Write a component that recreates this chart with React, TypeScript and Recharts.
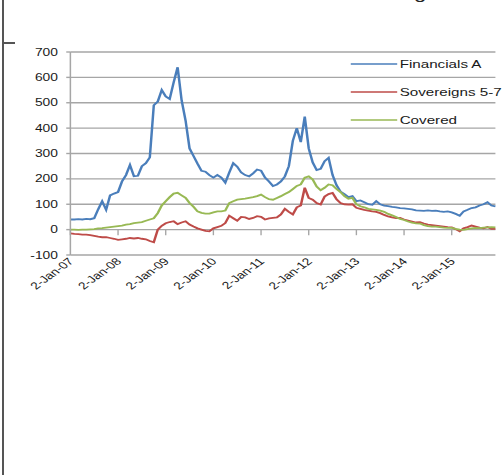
import React from 'react';
import { LineChart, Line, XAxis, YAxis, CartesianGrid, ReferenceLine, Legend } from 'recharts';

const tickMonths = [0, 12, 24, 36, 48, 60, 72, 84, 96];
const tickLabels = ['2-Jan-07', '2-Jan-08', '2-Jan-09', '2-Jan-10', '2-Jan-11', '2-Jan-12', '2-Jan-13', '2-Jan-14', '2-Jan-15'];
const yTicks = [-100, 0, 100, 200, 300, 400, 500, 600, 700];

// monthly values, Jan 2007 .. Dec 2015
const financialsA = [
  40, 40, 41, 40, 42, 41, 45, 80, 112, 78, 135, 142,
  148, 190, 215, 255, 210, 212, 250, 262, 285, 490, 505, 550,
  525, 515, 580, 640, 510, 430, 320, 290, 260, 232, 228, 215,
  205, 215, 205, 185, 225, 262, 248, 225, 215, 210, 222, 237,
  232, 205, 190, 172, 178, 190, 210, 250, 350, 400, 345, 445,
  320, 265, 235, 240, 270, 283, 215, 175, 150, 140, 128, 132,
  112, 115, 108, 100, 98, 112, 100, 95, 93, 90, 88, 85,
  84, 82, 80, 76, 75, 74, 76, 74, 75, 72, 70, 72,
  68, 62, 55, 72, 78, 85, 88, 95, 100, 108, 95, 92,
];
const sovereigns57 = [
  -15, -17, -18, -20, -20, -22, -25, -28, -30, -30, -33, -36,
  -40, -38, -36, -33, -35, -33, -36, -38, -45, -50, 0, 15,
  25, 30, 33, 22, 28, 33, 20, 12, 5, 0, -5, -7,
  5, 10, 15, 26, 55, 45, 35, 50, 48, 42, 46, 53,
  50, 40, 44, 46, 48, 60, 82, 70, 60, 88, 95, 165,
  125, 118, 105, 99, 130, 140, 145, 120, 105, 100, 99, 100,
  86, 82, 78, 75, 72, 70, 65, 58, 52, 48, 45, 46,
  40, 36, 32, 28, 29, 24, 20, 18, 16, 14, 12, 10,
  9, 2, -7, 5, 10, 16, 12, 8, 5, 10, 3, 3,
];
const covered = [
  0, 0, -1, 0, 0, 1, 2, 5, 6, 8, 10, 12,
  14, 16, 20, 22, 26, 28, 30, 35, 40, 45, 65, 95,
  112, 128, 142, 145, 135, 125, 105, 90, 72, 66, 63, 63,
  68, 72, 72, 75, 105, 112, 118, 120, 122, 125, 128, 132,
  138, 128, 120, 118, 125, 132, 140, 148, 160, 172, 178, 205,
  210, 198, 170, 155, 165, 178, 175, 160, 148, 132, 122, 125,
  100, 92, 88, 82, 80, 78, 75, 70, 62, 56, 50, 42,
  38, 32, 28, 25, 24, 18, 14, 12, 12, 10, 8, 7,
  7, 3, 0, -1, 2, 5, 7, 6, 8, 9, 10, 9,
];

const seriesKeys = ['fin', 'sov', 'cov'];
const seriesNames = ['Financials A', 'Sovereigns 5-7', 'Covered'];
const seriesColors = ['#4A7EBB', '#BE4B48', '#98B954'];

const data = financialsA.map((v, i) => ({ m: i, fin: v, sov: sovereigns57[i], cov: covered[i] }));

const FONT = '"Liberation Sans", Arial, sans-serif';
const S = 1.38;
const INNER_W = 365;
const H = 475;

const XTick = (props: any) => {
  const { x, y, payload } = props;
  const idx = tickMonths.indexOf(payload.value);
  return (
    <g transform={`translate(${x + 3},${y + 7}) rotate(-45)`}>
      <text x={0} y={0} textAnchor="end" fontSize={10} fill="#1a1a1a" fontFamily={FONT}>
        {idx >= 0 ? tickLabels[idx] : ''}
      </text>
    </g>
  );
};

const LegendContent = () => (
  <div style={{ display: 'flex', flexDirection: 'column' }}>
    {seriesNames.map((n, i) => (
      <div key={n} style={{ height: 28, display: 'flex', alignItems: 'center' }}>
        <svg width={34} height={4} style={{ display: 'block' }}>
          <line x1={0} y1={2} x2={34} y2={2} stroke={seriesColors[i]} strokeWidth={1.3} />
        </svg>
        <span style={{ marginLeft: 2, fontSize: 11, color: '#1a1a1a', fontFamily: FONT, whiteSpace: 'nowrap' }}>{n}</span>
      </div>
    ))}
  </div>
);

export default function App() {
  return (
    <div style={{ position: 'absolute', left: 0, top: 0, width: 504, height: H, overflow: 'hidden', background: '#fff' }}>
      <div style={{ position: 'absolute', left: 2, top: 0, width: 2, height: H, background: '#555' }} />
      <div style={{ position: 'absolute', left: 3, top: 42, width: 12, height: 2, background: '#555' }} />
      <div style={{ position: 'absolute', left: 0, top: 0, width: INNER_W, height: H, transform: `scaleX(${S})`, transformOrigin: '0 0' }}>
        <div style={{ position: 'absolute', left: 300, top: -14, fontSize: 16, lineHeight: '16px', fontFamily: FONT, color: '#222' }}>g</div>
        <LineChart width={INNER_W} height={H} data={data} margin={{ top: 52, right: 6, bottom: 170, left: 0 }}>
          <CartesianGrid vertical={false} stroke="#a6a6a6" strokeWidth={1.4} />
          <XAxis
            dataKey="m"
            type="number"
            domain={[0, 107]}
            ticks={tickMonths}
            interval={0}
            axisLine={false}
            tickLine={false}
            tickSize={0}
            tickMargin={0}
            height={50}
            tick={<XTick />}
          />
          <YAxis
            domain={[-100, 700]}
            ticks={yTicks}
            interval={0}
            width={51}
            tickSize={3}
            tickMargin={6}
            axisLine={{ stroke: '#a6a6a6', strokeWidth: 1.1 }}
            tickLine={{ stroke: '#a6a6a6', strokeWidth: 1.4 }}
            tick={{ fontSize: 10, fill: '#1a1a1a', fontFamily: FONT }}
          />
          {tickMonths.map((m) => (
            <ReferenceLine key={m} segment={[{ x: m, y: 0 }, { x: m, y: -22 }]} stroke="#a6a6a6" strokeWidth={1} />
          ))}
          {seriesKeys.map((k, i) => (
            <Line
              key={k}
              dataKey={k}
              name={seriesNames[i]}
              stroke={seriesColors[i]}
              strokeWidth={1.8}
              dot={false}
              type="linear"
              isAnimationActive={false}
            />
          ))}
          <Legend
            layout="vertical"
            align="center"
            verticalAlign="middle"
            wrapperStyle={{ left: 253.6, top: 50, width: 110 }}
            content={<LegendContent />}
          />
        </LineChart>
      </div>
    </div>
  );
}
